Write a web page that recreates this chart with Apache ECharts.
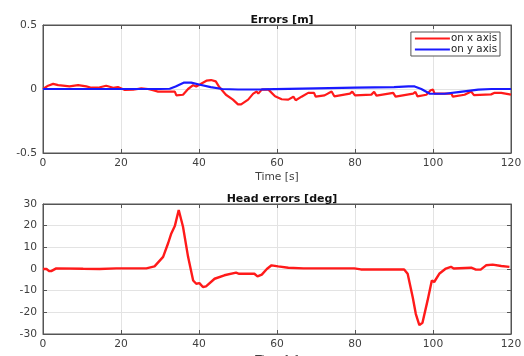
<!DOCTYPE html>
<html>
<head>
<meta charset="utf-8">
<script src="https://cdn.jsdelivr.net/npm/echarts@6/dist/echarts.min.js"></script>
<style>html,body{margin:0;padding:0;background:#fff}#c{width:524px;height:356px}</style>
</head>
<body>
<div id="c"></div>
<script>
// Top plot: position errors [m]
var errXTime = [0,1.3,2.6,3.9,4.3,5.1,6.8,9,9.4,11.1,12.4,14.1,14.5,16.2,18,19.2,19.7,21,23.1,25.2,26.9,28.2,29.5,33.8,34.2,35.9,37.2,38.5,39.3,40.2,41.9,43.1,44.3,45.2,46.9,48.7,50,50.8,52.6,53.9,54.8,55.2,56.1,57.8,59.5,61.2,62.9,64.2,64.8,66.3,68,69.5,69.9,72.2,74,74.7,78.7,79.3,80,84.2,84.9,85.5,89.8,90.4,94.9,95.5,96,98.3,99.4,100,100.4,104.7,105.1,108.1,109.8,110.5,114.9,115.8,117.5,120];
var errXVal = [0,0.026,0.04,0.03,0.04,0.026,0.02,0.03,0.035,0.02,0.01,0.01,0.025,0.025,0.01,0.015,0.005,-0.008,-0.006,0.005,0,-0.01,-0.02,-0.02,-0.05,-0.045,0,0.03,0.02,0.035,0.065,0.07,0.06,0.015,-0.045,-0.083,-0.12,-0.12,-0.083,-0.036,-0.02,-0.036,-0.005,-0.005,-0.057,-0.08,-0.083,-0.06,-0.088,-0.06,-0.03,-0.03,-0.06,-0.05,-0.02,-0.057,-0.036,-0.02,-0.05,-0.044,-0.022,-0.052,-0.03,-0.06,-0.036,-0.022,-0.057,-0.045,-0.01,-0.005,-0.036,-0.036,-0.06,-0.045,-0.02,-0.048,-0.042,-0.03,-0.03,-0.044];
var errYTime = [0,10,20,30,32.5,34,36.2,38,40,43,46,50,56,70,80,90,93.7,95.3,97,99.2,103,107,111.6,115,120];
var errYVal = [0,0,0,0,0.002,0.02,0.05,0.05,0.035,0.015,0,-0.004,-0.003,0.005,0.01,0.015,0.02,0.02,0,-0.037,-0.037,-0.022,-0.005,0,0];
// Bottom plot: heading errors [deg]
var headTime = [0,0.9,1.5,2.1,2.6,3.4,10.3,14.5,18.8,26.5,27.8,28.6,29,30.8,32.1,32.9,33.8,34.2,34.8,35.2,35.9,37.2,38.5,39.3,40.1,41,41.8,44,46.5,49.5,50.3,54.2,55,56.1,57.4,58.6,60.3,62.9,66.8,73,79.8,81.5,92.6,93.5,94.8,95.6,96.5,97.3,98.6,99.7,100.3,101.6,103.3,104.6,105.3,109.8,111,112.3,113.6,115.3,117.5,119.6];
var headVal = [0,0,-0.9,-1,-0.3,0.3,0.1,0,0.3,0.3,0.9,1.2,1.5,5.6,12,16.4,19.8,20.6,27.2,26.4,19.5,5.6,-5.3,-6.8,-6.5,-8.3,-8,-4.5,-2.9,-1.7,-2.2,-2.2,-3.4,-2.6,0,1.7,1.2,0.6,0.3,0.3,0.3,-0.2,-0.2,-2.2,-13,-20.8,-25.9,-24.8,-14.6,-5.3,-6,-2.2,0.2,1,0.2,0.6,-0.3,-0.2,1.7,2,1.4,1];
var xTicks = [0,20,40,60,80,100,120];
var topYTicks = [-0.5,0,0.5];
var botYTicks = [-30,-20,-10,0,10,20,30];

function zip(a,b){return a.map(function(v,i){return [v,b[i]];});}

var FONT = 'DejaVu Sans';
function none(){return '';}
function xAx(gi, show, gap){
  return {type:'value', gridIndex:gi, min:0, max:120, interval:20,
    position: show ? 'bottom' : 'top',
    name: show ? 'Time [s]' : '', nameLocation:'middle', nameGap:gap,
    nameTextStyle:{color:'#404040', fontFamily:FONT, fontSize:10.7},
    axisLine:{show:true, onZero:false, lineStyle:{color:'#555', width:1}},
    axisTick:{show:true, inside:true, length:4, lineStyle:{color:'#555'}},
    axisLabel: show ? {show:true, margin:5, color:'#404040', fontFamily:FONT, fontSize:10.7,
      formatter:function(v){return xTicks.indexOf(v)>=0 ? String(v) : '';}} : {show:false, formatter:none},
    splitLine:{show:show, lineStyle:{color:'#e3e3e3', width:1}}};
}
function yAx(gi, show, ticks){
  return {type:'value', gridIndex:gi, min:ticks[0], max:ticks[ticks.length-1], interval:ticks[1]-ticks[0],
    position: show ? 'left' : 'right',
    axisLine:{show:true, onZero:false, lineStyle:{color:'#555', width:1}},
    axisTick:{show:true, inside:true, length:4, lineStyle:{color:'#555'}},
    axisLabel: show ? {show:true, margin:6, color:'#404040', fontFamily:FONT, fontSize:10.7,
      showMinLabel:true, showMaxLabel:true} : {show:false, formatter:none},
    splitLine:{show:show, lineStyle:{color:'#e3e3e3', width:1}}};
}

var chart = echarts.init(document.getElementById('c'), null, {renderer:'canvas'});
chart.setOption({
  animation:false,
  backgroundColor:'#fff',
  title:[
    {text:'Errors [m]', left:277, top:10, textAlign:'center', textStyle:{fontFamily:FONT, fontWeight:'bold', fontSize:11, color:'#111'}},
    {text:'Head errors [deg]', left:277, top:189, textAlign:'center', textStyle:{fontFamily:FONT, fontWeight:'bold', fontSize:11, color:'#111'}}
  ],
  legend:{data:['on x axis','on y axis'], orient:'vertical', right:24, top:32,
    backgroundColor:'#fff', borderColor:'#555', borderWidth:1, padding:[1,3,1,4], itemGap:0,
    icon:'rect', itemWidth:35, itemHeight:2,
    textStyle:{fontFamily:FONT, fontSize:10.3, color:'#222', padding:[0,0,0,-4], lineHeight:11}},
  grid:[
    {left:43, right:13, top:25, height:128, show:true, borderColor:'#555', borderWidth:1, containLabel:false, outerBoundsMode:'none'},
    {left:43, right:13, top:204, height:130, show:true, borderColor:'#555', borderWidth:1, containLabel:false, outerBoundsMode:'none'}
  ],
  xAxis:[xAx(0,true,19), xAx(0,false,0), xAx(1,true,21), xAx(1,false,0)],
  yAxis:[yAx(0,true,topYTicks), yAx(0,false,topYTicks), yAx(1,true,botYTicks), yAx(1,false,botYTicks)],
  series:[
    {name:'on x axis', type:'line', xAxisIndex:0, yAxisIndex:0, data:zip(errXTime,errXVal), symbol:'none', lineStyle:{color:'#ff1a1a', width:2.2}, itemStyle:{color:'#ff1a1a'}},
    {name:'on y axis', type:'line', xAxisIndex:0, yAxisIndex:0, data:zip(errYTime,errYVal), symbol:'none', lineStyle:{color:'#1a1aff', width:2.2}, itemStyle:{color:'#1a1aff'}},
    {name:'head', type:'line', xAxisIndex:2, yAxisIndex:2, data:zip(headTime,headVal), symbol:'none', lineStyle:{color:'#ff1a1a', width:2.4}, itemStyle:{color:'#ff1a1a'}}
  ]
});
</script>
</body>
</html>
